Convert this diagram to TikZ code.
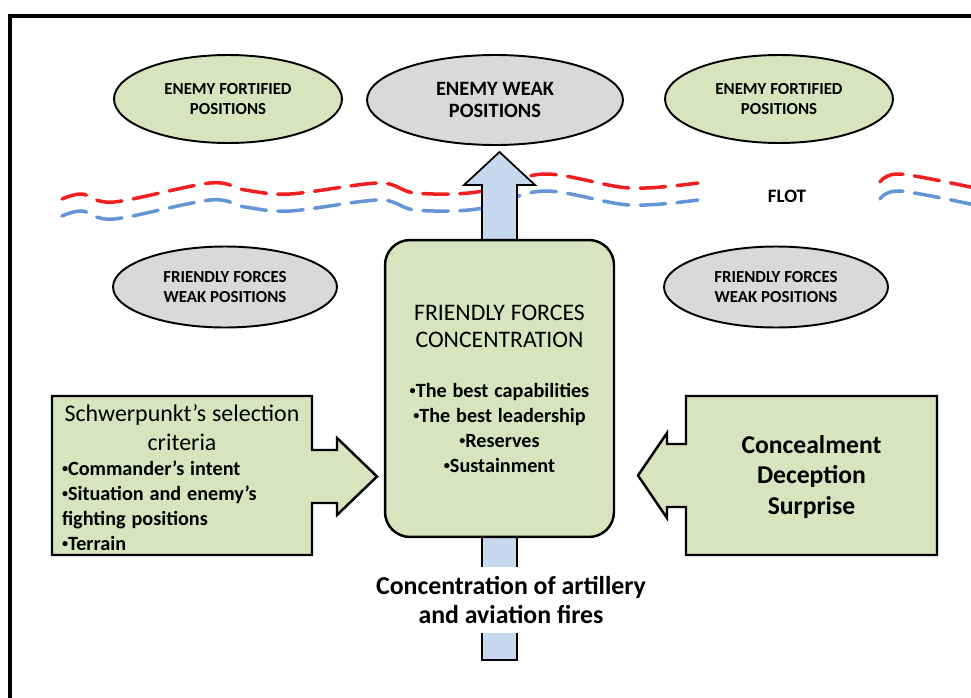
\documentclass[tikz,border=0pt]{standalone}
\usepackage{fontspec}
\setmainfont{Carlito}
\usepackage{tikz}
\usetikzlibrary{shapes.geometric, positioning}

\definecolor{boxgreen}{RGB}{215,228,189}
\definecolor{posgray}{RGB}{217,217,217}
\definecolor{arrowblue}{RGB}{198,217,241}
\definecolor{flotred}{RGB}{240,32,32}
\definecolor{flotblue}{RGB}{98,150,215}
\newcommand{\blt}{\raisebox{0.3ex}{\scalebox{0.6}{•}}}

\begin{document}
\begin{tikzpicture}[
      x=0.02cm, y=-0.02cm,
      posell/.style={ellipse, draw, line width=1.1pt, inner sep=0pt,
      align=center, font=\fontsize{9.6}{11.6}\selectfont\bfseries},
      enemyfort/.style={posell, fill=boxgreen, minimum width=4.56cm,
      minimum height=1.76cm},
      enemyweak/.style={posell, fill=posgray, minimum width=5.12cm,
      minimum height=1.8cm, font=\fontsize{11.6}{13}\selectfont\bfseries},
      friendweak/.style={posell, fill=posgray, minimum width=4.48cm,
      minimum height=1.62cm},
      shapeline/.style={draw, line width=1.4pt, fill=boxgreen},
      flotline/.style={line width=2pt, dash pattern=on 14.5pt off 6.5pt,
      line cap=round}
    ]
    \useasboundingbox (0,0) rectangle (971,697);
    \clip (0,0) rectangle (971,697);

    % frame
    \draw[line width=2.3pt] (10,16) rectangle (1000,720);

    % enemy side
    \node[enemyfort] (fortl) at (228,99) {ENEMY FORTIFIED\\POSITIONS};
    \node[enemyweak] (weak) at (495,100) {ENEMY WEAK\\POSITIONS};
    \node[enemyfort] (fortr) at (779,99) {ENEMY FORTIFIED\\POSITIONS};

    % FLOT
    \foreach \c/\dy in {flotred/0, flotblue/17} {
      \draw[\c, flotline, shift={(0,\dy)}] plot[smooth, tension=0.55]
      coordinates {(62,199) (82,194) (114,202) (210,183) (245,190)
      (290,194) (379,183) (415,193) (477,192) (544,174) (629,188) (698,183)};
      \draw[\c, flotline, shift={(0,\dy)}] plot[smooth, tension=0.55]
      coordinates {(880,182) (900,174) (975,188)};
    }
    \node[font=\fontsize{10.8}{12}\selectfont\bfseries] (flot) at (787,196) {FLOT};

    % friendly side
    \node[friendweak] (weakl) at (225,287) {FRIENDLY FORCES\\WEAK POSITIONS};
    \node[friendweak] (weakr) at (776,287) {FRIENDLY FORCES\\WEAK POSITIONS};

    % main effort arrow
    \draw[line width=1pt, fill=arrowblue] (482,660) -- (482,185) -- (464,185)
      -- (499.5,152) -- (535,185) -- (517,185) -- (517,660) -- cycle;

    \node[draw, line width=1.4pt, fill=boxgreen, rounded corners=0.5cm,
      minimum width=4.58cm, minimum height=5.94cm, text width=4.3cm,
      align=center] (conc) at (499.5,388.5) {%
      {\fontsize{13.5}{15.4}\selectfont FRIENDLY FORCES\\CONCENTRATION\par}
      \vspace{14.3pt}
      {\fontsize{11.5}{14.2}\selectfont\bfseries \blt The best capabilities\\
      \blt The best leadership\\ \blt Reserves\\ \blt Sustainment\par}};

    \node[fill=white, inner xsep=2pt, inner ysep=5pt, align=center,
      font=\fontsize{14.7}{17}\selectfont\bfseries] (fires) at (511,600)
      {Concentration of artillery\\and aviation fires};

    % criteria
    \draw[shapeline] (52,396) -- (312,396) -- (312,450) -- (337,450)
      -- (337,438) -- (377,476.5) -- (337,515) -- (337,503) -- (312,503)
      -- (312,555) -- (52,555) -- cycle;
    \node[text width=4.8cm, align=left, inner sep=0pt] (crit) at (182,478) {%
      {\centering\fontsize{13.6}{16.5}\selectfont
      Schwerpunkt’s selection\\criteria\par}
      {\fontsize{11.5}{14.2}\selectfont\bfseries \blt Commander’s intent\\
      \blt Situation and enemy’s\\fighting positions\\\blt Terrain\par}};

    % concealment
    \draw[shapeline] (937,396) -- (686,396) -- (686,444) -- (667,444)
      -- (667,433) -- (638,475.5) -- (667,518) -- (667,507) -- (686,507)
      -- (686,555) -- (937,555) -- cycle;
    \node[align=center, font=\fontsize{14.6}{17.6}\selectfont\bfseries]
      (cds) at (811.5,477) {Concealment\\Deception\\Surprise};
  \end{tikzpicture}
\end{document}
